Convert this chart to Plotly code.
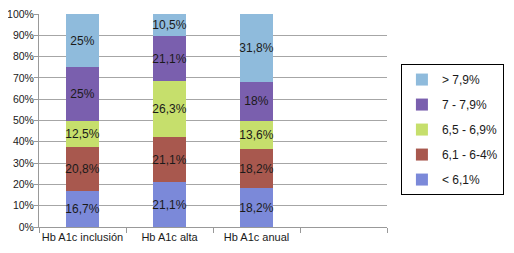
import plotly.graph_objects as go

categories = ["Hb A1c inclusión", "Hb A1c alta", "Hb A1c anual", " "]
series_names = ["< 6,1%", "6,1 - 6-4%", "6,5 - 6,9%", "7 - 7,9%", "> 7,9%"]
v_lt61 = [16.7, 21.1, 18.2, None]
v_61_64 = [20.8, 21.1, 18.2, None]
v_65_69 = [12.5, 26.3, 13.6, None]
v_7_79 = [25, 21.1, 18, None]
v_gt79 = [25, 10.5, 31.8, None]
labels_lt61 = ["16,7%", "21,1%", "18,2%", ""]
labels_61_64 = ["20,8%", "21,1%", "18,2%", ""]
labels_65_69 = ["12,5%", "26,3%", "13,6%", ""]
labels_7_79 = ["25%", "21,1%", "18%", ""]
labels_gt79 = ["25%", "10,5%", "31,8%", ""]
colors = ["#7b89d9", "#a8584e", "#c6df6c", "#7a5fae", "#8fbbdc"]
y_ticks = [0, 10, 20, 30, 40, 50, 60, 70, 80, 90, 100]
y_ticklabels = [f"{t}%" for t in y_ticks]

values = [v_lt61, v_61_64, v_65_69, v_7_79, v_gt79]
labels = [labels_lt61, labels_61_64, labels_65_69, labels_7_79, labels_gt79]

fig = go.Figure()
for i, (name, vals, lab, col) in enumerate(zip(series_names, values, labels, colors)):
    fig.add_trace(go.Bar(
        x=categories, y=vals, name=name, text=lab,
        marker=dict(color=col, line=dict(width=0)),
        textposition="inside", insidetextanchor="middle", textangle=0,
        constraintext="none",
        textfont=dict(color="#1a1a1a", size=12, family="Liberation Sans, Arial, sans-serif"),
        legendgroup=f"g{i}",
        legendrank=10 - i,
        width=0.39,
    ))

fig.update_layout(
    barmode="stack",
    width=514, height=253,
    margin=dict(l=31, r=135, t=6, b=34, autoexpand=False),
    paper_bgcolor="white", plot_bgcolor="white",
    font=dict(family="Liberation Sans, Arial, sans-serif", size=11, color="#1a1a1a"),
    uniformtext=dict(minsize=12, mode="show"),
    legend=dict(
        x=1.04, y=0.765, xanchor="left", yanchor="top",
        bordercolor="black", borderwidth=1, bgcolor="white",
        traceorder="grouped", tracegroupgap=6,
        font=dict(size=12),
        itemwidth=30,
    ),
)
fig.update_xaxes(
    categoryorder="array", categoryarray=categories,
    tickson="boundaries", ticks="outside", ticklen=5, tickcolor="#999999",
    showline=True, linecolor="#999999", linewidth=1,
    showgrid=False, tickfont=dict(size=11), tickangle=0, automargin=False,
    ticklabeloverflow="allow",
)
fig.update_yaxes(
    range=[0, 100], tickvals=y_ticks, ticktext=y_ticklabels,
    showgrid=True, gridcolor="#a6a6a6", gridwidth=1,
    showline=True, linecolor="#999999", linewidth=1,
    ticks="outside", ticklen=4, tickcolor="#999999",
    tickfont=dict(size=10.5), zeroline=False, automargin=False,
    ticklabeloverflow="allow", ticklabelstandoff=-2,
)

fig.write_html("out.html")
